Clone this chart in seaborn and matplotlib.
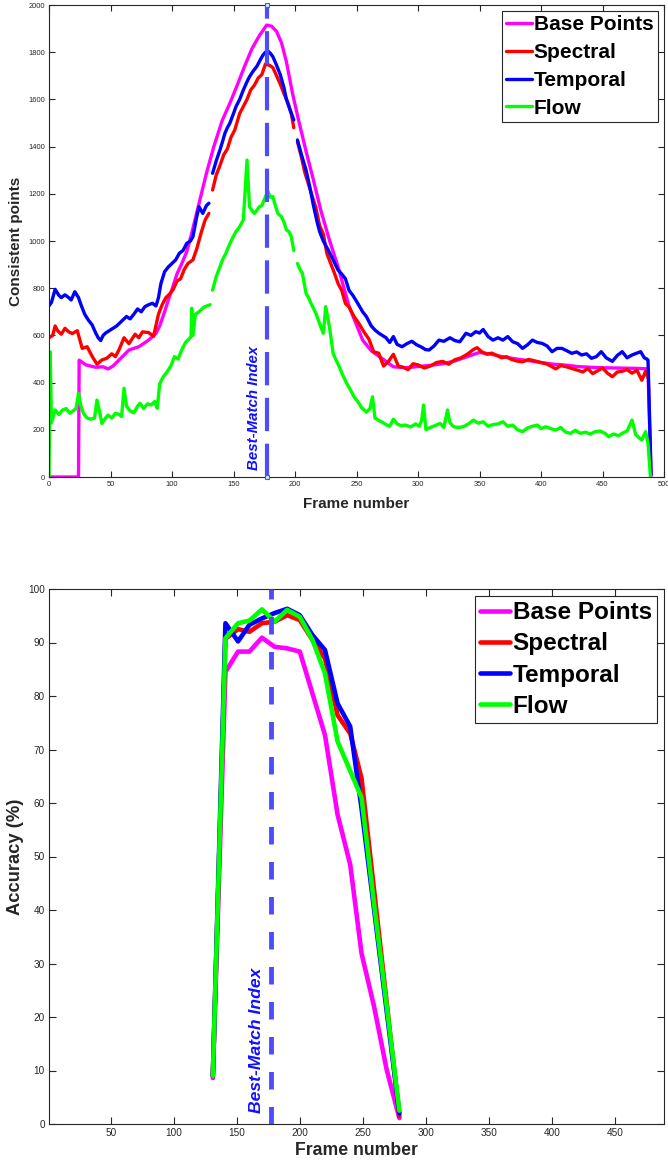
import numpy as np
import pandas as pd
import matplotlib
matplotlib.use("Agg")
import matplotlib.pyplot as plt
from matplotlib.lines import Line2D
import seaborn as sns

# ---------------- data: top panel (consistent points per frame) ----------------
nan = np.nan
bp_f = [0, 24, 24.5, 30, 38, 44, 48, 52, 57, 65, 73, 81, 87, 90, 94, 97, 100, 104, 108, 112,
        116, 122, 128, 134, 141, 147, 153, 159, 165, 171, 177, 181, 185, 189, 193, 198, 203,
        209, 215, 221, 228, 235, 244, 255, 262, 270, 280, 290, 300, 310, 320, 330, 340, 350,
        360, 370, 380, 390, 400, 410, 420, 430, 440, 450, 460, 470, 480, 487, 489.5]
bp_v = [0, 0, 495, 475, 465, 467, 458, 470, 496, 538, 552, 580, 609, 640, 700, 750, 795, 860,
        905, 955, 1032, 1160, 1287, 1400, 1513, 1583, 1660, 1740, 1815, 1870, 1915, 1910,
        1888, 1840, 1760, 1625, 1510, 1380, 1258, 1130, 1004, 891, 722, 580, 535, 505, 467,
        463, 468, 473, 480, 492, 510, 528, 520, 508, 500, 493, 485, 478, 474, 468, 465, 463,
        462, 461, 460, 458, 0]

sp_f = [0, 3, 5, 7, 10, 13, 16, 19, 23, 27, 31, 35, 39, 43, 47, 51, 54, 57, 61, 65, 70, 73,
        76, 81, 85, 89, 92, 95, 98, 101, 104, 107, 110, 113, 117, 120, 124, 127, 130, 131.5,
        133, 136, 139, 142, 145, 148, 151, 155, 158, 161, 164, 167, 170, 173, 176, 179, 182,
        185, 188, 191, 194, 197, 199, 200.5, 202, 205, 208, 211, 214, 217, 220, 223, 226, 229,
        232, 235, 238, 241, 244, 248, 252, 256, 260, 264, 268, 272, 276, 280, 284, 288, 292,
        296, 300, 305, 310, 315, 320, 325, 330, 335, 340, 345, 348, 352, 356, 360, 364, 368,
        372, 376, 380, 385, 390, 395, 400, 404, 408, 412, 416, 420, 425, 430, 434, 438, 442,
        446, 450, 454, 458, 462, 466, 470, 474, 478, 482, 485, 487]
sp_v = [590, 600, 640, 620, 605, 630, 615, 608, 620, 545, 552, 512, 478, 496, 503, 522, 510,
        540, 590, 565, 605, 590, 615, 612, 596, 690, 730, 760, 775, 795, 830, 840, 880, 905,
        920, 965, 1040, 1090, 1117, nan, 1216, 1280, 1320, 1365, 1390, 1440, 1470, 1540, 1570,
        1600, 1640, 1660, 1690, 1705, 1750, 1745, 1735, 1700, 1665, 1625, 1590, 1540, 1480,
        nan, 1420, 1360, 1290, 1240, 1190, 1140, 1065, 1030, 945, 905, 865, 820, 790, 735, 720,
        680, 650, 615, 585, 530, 525, 470, 490, 520, 470, 465, 455, 480, 475, 462, 470, 485,
        490, 478, 497, 505, 520, 540, 548, 530, 520, 525, 515, 505, 510, 498, 492, 488, 498,
        492, 485, 480, 470, 458, 472, 468, 460, 452, 445, 460, 438, 450, 462, 440, 425, 445,
        448, 455, 440, 452, 410, 448, 420]

tp_f = [0, 2, 5, 8, 10, 13, 16, 18, 21, 24, 26, 29, 32, 35, 38, 40, 42, 44, 46, 49, 52, 55,
        57, 60, 63, 66, 69, 72, 75, 78, 81, 84, 87, 89, 91, 94, 97, 100, 103, 106, 109, 112,
        115, 117, 120, 122, 125, 128, 130, 131.5, 133, 136, 139, 141, 143, 145, 147, 150, 152,
        155, 158, 161, 163, 166, 169, 172, 174, 176, 178, 180, 182, 185, 188, 191, 193, 196,
        199, 200.5, 202, 205, 209, 212, 215, 218, 220, 223, 227, 231, 235, 238, 241, 244, 247,
        251, 255, 258, 262, 265, 268, 271, 274, 277, 280, 283, 287, 291, 295, 299, 303, 306,
        309, 313, 317, 321, 326, 330, 334, 339, 343, 347, 350, 353, 357, 361, 365, 369, 373,
        377, 381, 385, 389, 393, 397, 401, 405, 409, 413, 417, 421, 425, 429, 433, 437, 441,
        445, 449, 453, 458, 462, 466, 470, 474, 478, 481, 484, 486, 487, 489.5]
tp_v = [725, 740, 795, 770, 760, 772, 760, 750, 785, 760, 730, 690, 665, 645, 610, 590, 578,
        600, 610, 620, 630, 640, 650, 665, 680, 670, 690, 712, 700, 722, 730, 736, 725, 760,
        820, 870, 890, 905, 920, 948, 960, 990, 1000, 1018, 1100, 1145, 1117, 1150, 1160, nan,
        1287, 1340, 1386, 1420, 1456, 1480, 1499, 1540, 1569, 1600, 1640, 1675, 1696, 1720,
        1740, 1770, 1788, 1800, 1805, 1795, 1781, 1745, 1705, 1650, 1600, 1555, 1513, nan,
        1428, 1370, 1300, 1230, 1150, 1080, 1040, 1000, 962, 920, 877, 860, 840, 790, 770, 736,
        700, 680, 640, 623, 610, 600, 590, 570, 595, 562, 552, 565, 575, 560, 550, 540, 538,
        555, 580, 575, 590, 578, 573, 609, 600, 616, 610, 625, 595, 580, 590, 580, 595, 573,
        565, 545, 560, 580, 570, 566, 555, 531, 545, 545, 535, 524, 530, 517, 522, 503, 510,
        531, 505, 490, 515, 531, 505, 517, 525, 531, 505, 500, 495, 10]

fl_f = [0, 1, 2, 5, 8, 11, 14, 17, 20, 22, 24, 26, 28, 31, 34, 37, 39, 41, 43, 46, 48, 51, 54,
        57, 59, 61, 63, 66, 69, 72, 74, 77, 80, 83, 86, 88, 90, 93, 96, 99, 102, 105, 108, 111,
        113, 115.5, 116, 117, 119, 122, 126, 131, 132, 133, 136, 139, 141, 144, 146, 149, 152,
        155, 158, 161, 163, 165, 167, 169, 171, 173, 175, 177, 178, 180, 182, 184, 186, 189,
        191, 193, 195, 197, 199, 200.5, 202, 204, 206, 209, 211, 213, 215, 217, 220, 223, 225,
        228, 231, 233, 236, 239, 242, 245, 248, 251, 254, 258, 261, 263, 265, 268, 271, 274,
        277, 280, 283, 286, 290, 294, 298, 301, 303, 304.5, 306.5, 310, 314, 318, 321, 324,
        326, 329, 333, 337, 341, 345, 349, 353, 357, 361, 365, 369, 373, 377, 381, 385, 389,
        393, 397, 400, 404, 408, 412, 416, 420, 424, 428, 432, 436, 440, 444, 448, 452, 455,
        459, 463, 466, 470, 474, 477, 480, 482, 485, 487, 489]
fl_v = [0, 530, 230, 284, 265, 284, 290, 270, 282, 290, 355, 300, 270, 250, 245, 250, 326,
        280, 227, 250, 262, 250, 270, 265, 256, 376, 300, 280, 272, 300, 312, 290, 310, 305,
        320, 291, 395, 425, 445, 470, 510, 500, 540, 570, 580, 595, 715, 600, 690, 700, 720,
        730, nan, 792, 850, 891, 919, 950, 976, 1010, 1040, 1060, 1090, 1343, 1145, 1130, 1117,
        1130, 1145, 1150, 1175, 1200, 1209, 1185, 1188, 1150, 1117, 1103, 1080, 1047, 1040,
        1018, 960, nan, 905, 880, 863, 778, 760, 736, 715, 693, 650, 609, 722, 637, 524, 500,
        467, 430, 397, 370, 340, 320, 295, 275, 290, 340, 250, 240, 232, 222, 215, 245, 225,
        218, 220, 212, 225, 215, 240, 305, 200, 210, 218, 227, 210, 284, 230, 213, 210, 213,
        225, 241, 228, 234, 215, 222, 225, 234, 215, 220, 200, 192, 208, 215, 220, 205, 213,
        205, 199, 210, 190, 185, 198, 185, 190, 182, 192, 195, 185, 171, 182, 175, 185, 195,
        241, 180, 165, 157, 192, 143, 0]

# ---------------- data: bottom panel (accuracy) ----------------
acc_frames = [131, 141, 151, 160, 170, 180, 190, 200, 210, 220, 230, 240, 249, 259, 269, 279]
acc_base = [8.6, 84.5, 88.3, 88.3, 90.9, 89.2, 88.9, 88.3, 80.5, 72.7, 57.8, 48.5, 31.9, 21.9, 10.1, 1.1]
acc_spectral = [9.0, 90.7, 92.5, 92.0, 93.6, 93.9, 95.1, 94.2, 90.5, 87.0, 76.4, 73.0, 64.6, 43.6, 22.6, 1.5]
acc_temporal = [9.0, 93.6, 90.2, 93.3, 94.5, 95.5, 96.3, 95.1, 91.4, 88.6, 78.6, 74.3, 59.0, 40.0, 21.0, 2.0]
acc_flow = [9.0, 90.8, 93.6, 94.1, 96.2, 93.9, 96.1, 94.8, 90.5, 84.2, 71.5, 66.0, 61.0, 41.0, 22.0, 2.5]

best_match = 177
series_names = ["Base Points", "Spectral", "Temporal", "Flow"]
series_colors = ["#ff00ff", "#ff0000", "#0000ff", "#00ff00"]

# ---------------- style ----------------
sns.set_theme(style="ticks")
plt.rcParams["font.family"] = ["Liberation Sans", "DejaVu Sans"]
plt.rcParams.update({
    "xtick.direction": "in", "ytick.direction": "in",
    "xtick.top": True, "ytick.right": True,
    "axes.edgecolor": "#262626", "xtick.color": "#262626", "ytick.color": "#262626",
    "axes.labelcolor": "#262626",
    "axes.linewidth": 0.8,
})

fig = plt.figure(figsize=(6.68, 11.66), dpi=100)
ax1 = fig.add_axes([49 / 668, 1 - 477 / 1166, 615 / 668, 472 / 1166])
ax2 = fig.add_axes([49 / 668, 1 - 1124 / 1166, 615 / 668, 535 / 1166])


def draw(ax, f, v, color, lw):
    df = pd.DataFrame({"frame": f, "val": v})
    df["seg"] = df["val"].isna().cumsum()
    df = df.dropna()
    sns.lineplot(data=df, x="frame", y="val", units="seg", estimator=None, sort=False,
                 color=color, linewidth=lw, ax=ax, legend=False, solid_joinstyle="round")


top_series = [(bp_f, bp_v), (sp_f, sp_v), (tp_f, tp_v), (fl_f, fl_v)]
for (f, v), c in zip(top_series, series_colors):
    draw(ax1, f, v, c, 2.4)

ax1.plot([best_match, best_match], [0, 2000], color="#4d4dff", lw=3.0,
         dashes=(8, 3), marker="s", ms=3.5, mfc="#dde8ff", mec="#3070c0", mew=0.8,
         clip_on=False, zorder=5)
ax1.text(167, 30, "Best-Match Index", rotation=90, ha="center", va="bottom",
         color="#1010ff", fontsize=10.8, fontweight="bold", fontstyle="italic")

ax1.set_xlim(0, 500)
ax1.set_ylim(0, 2000)
ax1.set_xticks(range(0, 501, 50))
ax1.set_yticks(range(0, 2001, 200))
ax1.tick_params(labelsize=5.4, length=4, width=0.8, pad=3)
ax1.set_xlabel("Frame number", fontsize=11, fontweight="bold", labelpad=6)
ax1.set_ylabel("Consistent points", fontsize=11, fontweight="bold", labelpad=4)

h1 = [Line2D([], [], color=c, lw=2.4) for c in series_colors]
leg1 = ax1.legend(h1, series_names, loc="upper right", prop={"size": 15, "weight": "bold"},
                  handlelength=1.25, handletextpad=0.1, labelspacing=0.42,
                  borderpad=0.2, borderaxespad=0.3, fancybox=False, framealpha=1,
                  edgecolor="#262626", labelcolor="black")
leg1.get_frame().set_linewidth(0.8)

acc_series = [acc_base, acc_spectral, acc_temporal, acc_flow]
for v, c in zip(acc_series, series_colors):
    draw(ax2, acc_frames, v, c, 3.3)

ax2.plot([best_match, best_match], [0, 100], color="#4d4dff", lw=3.5, dashes=(3.6, 3.6),
         zorder=5)
ax2.text(166, 2, "Best-Match Index", rotation=90, ha="center", va="bottom",
         color="#1010ff", fontsize=12.6, fontweight="bold", fontstyle="italic")

ax2.set_xlim(1, 489)
ax2.set_ylim(0, 100)
ax2.set_xticks(range(50, 451, 50))
ax2.set_yticks(range(0, 101, 10))
ax2.tick_params(labelsize=7.2, length=5, width=0.8, pad=3)
ax2.set_xlabel("Frame number", fontsize=12.7, fontweight="bold", labelpad=3)
ax2.set_ylabel("Accuracy (%)", fontsize=13.2, fontweight="bold", labelpad=3)

h2 = [Line2D([], [], color=c, lw=3.3) for c in series_colors]
leg2 = ax2.legend(h2, series_names, loc="upper right", prop={"size": 17.5, "weight": "bold"},
                  handlelength=1.25, handletextpad=0.1, labelspacing=0.34,
                  borderpad=0.2, borderaxespad=0.3, fancybox=False, framealpha=1,
                  edgecolor="#262626", labelcolor="black")
leg2.get_frame().set_linewidth(0.8)

for ax in (ax1, ax2):
    for s in ax.spines.values():
        s.set_visible(True)

fig.savefig("out.png", dpi=100)
